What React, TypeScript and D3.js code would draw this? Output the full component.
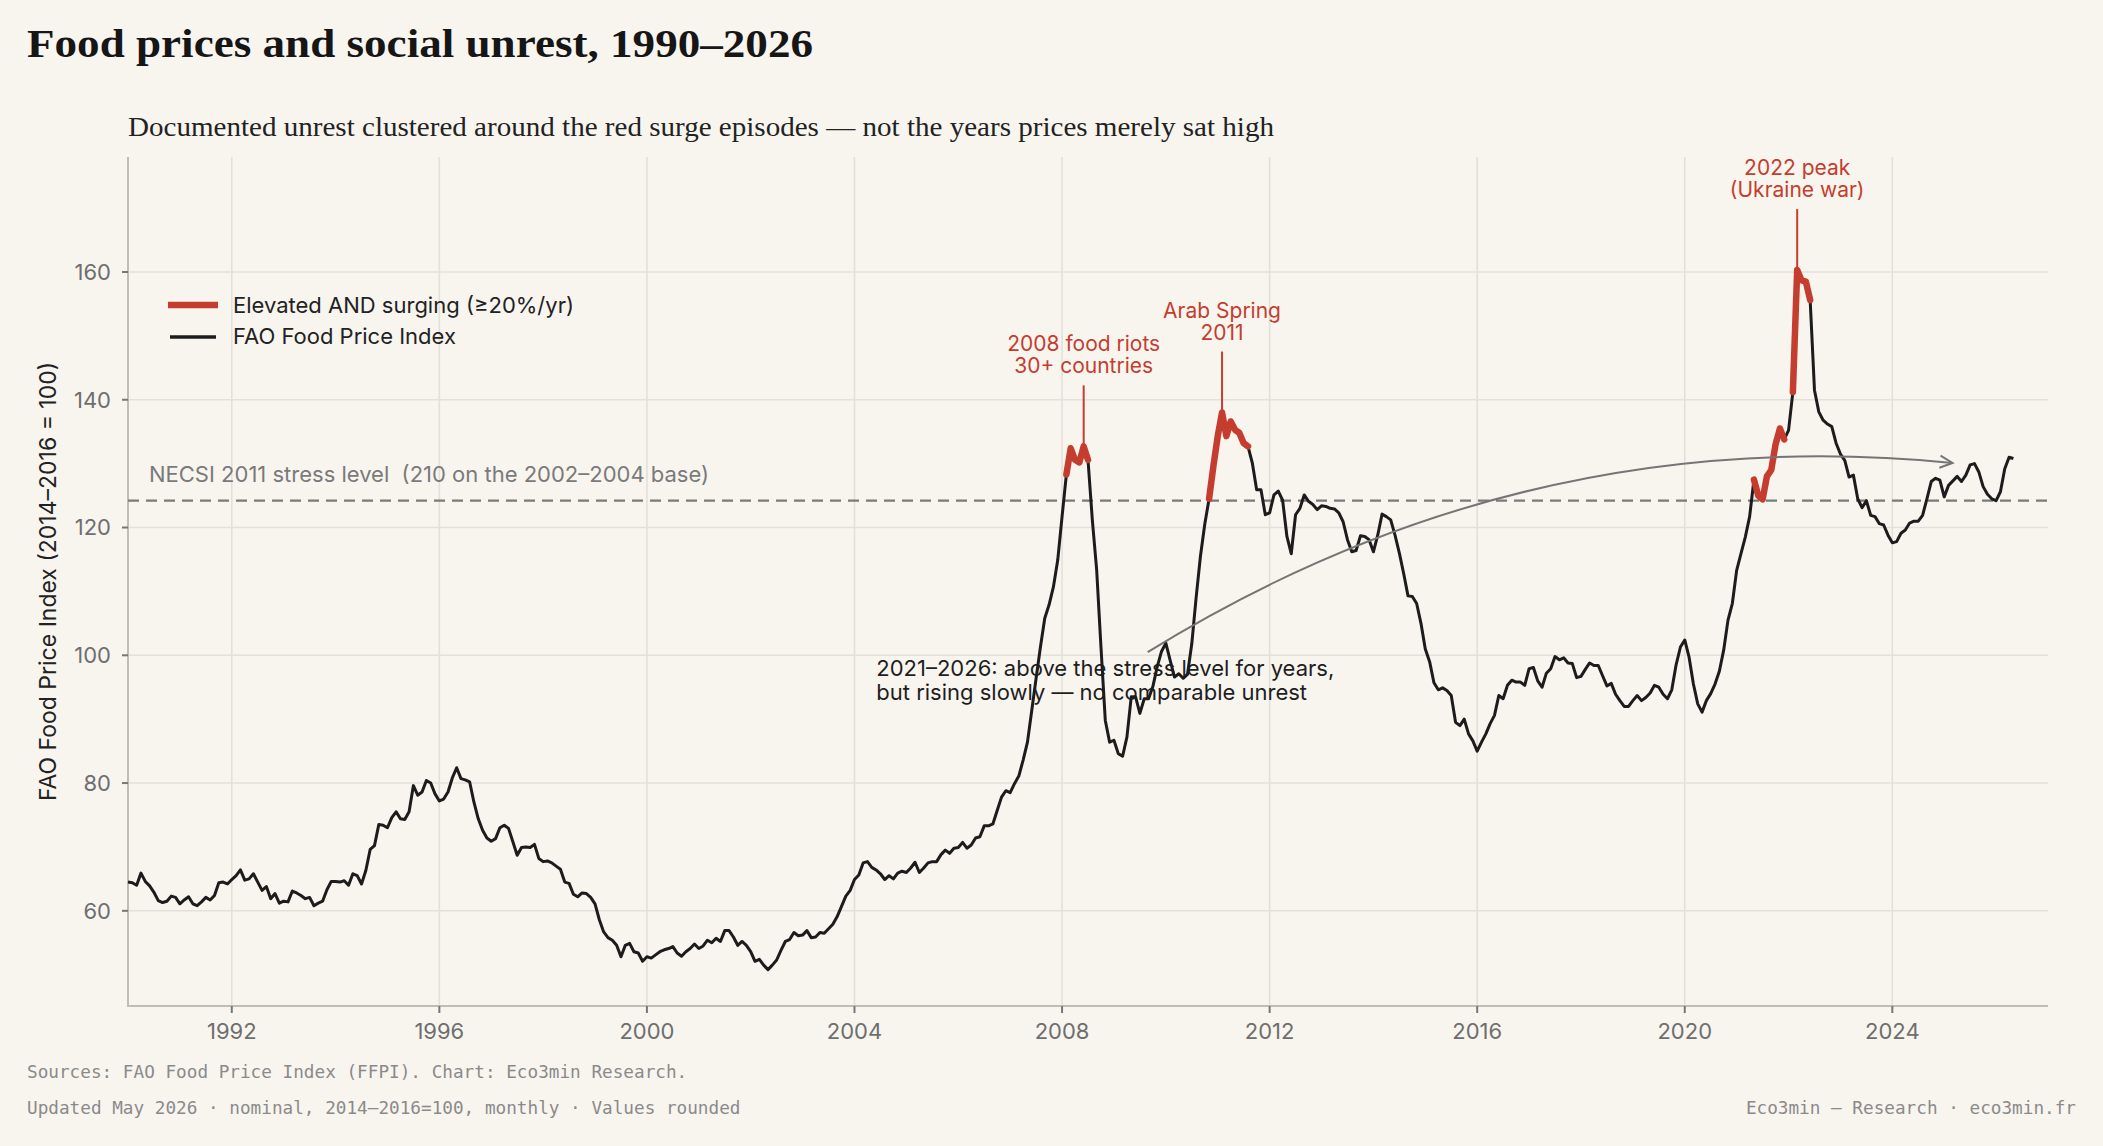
import { useEffect } from "react";
import * as d3 from "d3";

// FAO Food Price Index, monthly, nominal (2014-2016 = 100), Jan 1990 onward
const ffpi1990s = [
  64.5, 64.4, 64.0, 65.9, 64.6, 63.9, 62.9, 61.6, 61.3, 61.5, 62.3, 62.1,
  61.1, 61.7, 62.2, 61.1, 60.8, 61.4, 62.1, 61.7, 62.4, 64.4, 64.5, 64.2,
  64.9, 65.5, 66.4, 64.8, 65.0, 65.8, 64.5, 63.2, 63.8, 61.9, 62.7, 61.2,
  61.5, 61.4, 63.1, 62.8, 62.4, 61.9, 62.1, 60.8, 61.2, 61.5, 63.3, 64.6,
  64.6, 64.5, 64.7, 64.0, 65.8, 65.5, 64.2, 66.3, 69.6, 70.2, 73.5, 73.4,
  73.0, 74.6, 75.5, 74.4, 74.3, 75.5, 79.6, 78.1, 78.6, 80.4, 80.0, 78.3,
  77.2, 77.5, 78.6, 80.8, 82.4, 80.7, 80.5, 80.2, 77.0, 74.4, 72.6, 71.4,
  70.9, 71.3, 73.0, 73.4, 72.9, 70.8, 68.7, 69.9, 70.0, 69.9, 70.4, 68.2,
  67.7, 67.8, 67.5, 67.0, 66.5, 64.5, 64.3, 62.6, 62.2, 62.8, 62.7, 62.1,
  61.1, 58.6, 56.7, 55.8, 55.4, 54.6, 52.8, 54.6, 54.9, 53.6, 53.4, 52.1,
];
const ffpi2000s = [
  52.8, 52.6, 53.1, 53.6, 53.9, 54.1, 54.4, 53.4, 52.9, 53.6, 54.1, 54.8,
  54.1, 54.5, 55.4, 55.0, 55.7, 55.2, 56.9, 56.9, 55.9, 54.6, 55.2, 54.6,
  53.6, 52.1, 52.4, 51.5, 50.8, 51.5, 52.3, 53.8, 55.2, 55.5, 56.6, 56.1,
  56.2, 56.9, 55.8, 55.9, 56.6, 56.5, 57.2, 57.9, 59.1, 60.7, 62.3, 63.2,
  64.9, 65.6, 67.5, 67.7, 66.8, 66.4, 65.8, 64.9, 65.5, 65.0, 65.9, 66.2,
  66.0, 66.7, 67.6, 66.0, 66.7, 67.5, 67.7, 67.7, 68.8, 69.5, 69.0, 69.8,
  69.9, 70.7, 69.8, 70.3, 71.4, 71.6, 73.3, 73.3, 73.6, 75.7, 77.8, 78.8,
  78.5, 79.9, 81.1, 83.6, 86.4, 91.4, 96.4, 101.3, 105.8, 107.9, 110.7, 114.9,
  121.7, 128.3, 132.4, 130.6, 130.2, 132.7, 130.6, 121.2, 113.4, 101.3, 89.8, 86.4,
  86.7, 84.6, 84.2, 87.2, 93.5, 93.5, 90.9, 93.2, 93.2, 95.1, 98.2, 100.6,
];
const ffpi2010s = [
  101.9, 99.2, 96.6, 97.1, 96.4, 97.0, 101.8, 109.0, 115.5, 120.5, 124.5, 129.6,
  134.3, 138.0, 134.3, 136.6, 135.3, 134.8, 133.2, 132.7, 130.1, 125.9, 125.9, 122.0,
  122.3, 125.1, 125.7, 124.3, 118.6, 115.9, 122.0, 123.0, 125.1, 124.1, 123.6, 122.8,
  123.4, 123.3, 123.0, 122.9, 122.3, 120.9, 118.1, 116.2, 116.4, 118.7, 118.6, 118.1,
  116.2, 118.8, 122.1, 121.7, 121.2, 118.8, 116.0, 112.8, 109.3, 109.2, 108.1, 105.0,
  101.0, 99.0, 95.7, 94.6, 94.9, 94.5, 93.7, 89.5, 89.0, 90.0, 87.7, 86.6,
  85.0, 86.4, 87.7, 89.3, 90.6, 93.7, 93.2, 95.3, 96.1, 95.8, 95.8, 95.3,
  97.9, 98.1, 96.0, 95.0, 97.2, 97.9, 99.8, 99.3, 99.6, 98.8, 98.7, 96.5,
  96.7, 97.8, 98.8, 98.4, 98.4, 96.8, 95.2, 95.6, 93.9, 92.9, 92.0, 92.0,
  92.9, 93.7, 92.9, 93.4, 94.1, 95.3, 95.0, 93.9, 93.2, 94.6, 98.5, 101.3,
];
const ffpi2020s = [
  102.4, 99.7, 95.5, 92.4, 91.1, 92.9, 94.0, 95.5, 97.5, 100.8, 105.5, 108.1,
  113.3, 115.9, 118.5, 121.7, 127.5, 125.0, 124.4, 128.0, 129.0, 133.0, 135.5, 133.8,
  135.2, 141.2, 160.3, 158.7, 158.5, 155.6, 141.5, 138.1, 136.8, 136.2, 135.8, 133.2,
  131.5, 130.5, 127.9, 128.2, 124.5, 123.1, 124.2, 121.9, 121.7, 120.6, 120.4, 118.8,
  117.6, 117.8, 119.1, 119.6, 120.7, 121.0, 121.0, 121.9, 124.5, 127.2, 127.7, 127.4,
  124.8, 126.6, 127.3, 128.0, 127.2, 128.2, 129.8, 130.0, 128.7, 126.4, 125.2, 124.5,
  124.2, 125.6, 129.2, 131.0, 130.8,
];

const START_YEAR = 1990;
const STRESS_LEVEL = 124.2; // NECSI 210 on the 2002-2004 base
const SURGE = 0.2; // >= 20% year on year

const xTicks = [1992, 1996, 2000, 2004, 2008, 2012, 2016, 2020, 2024];
const yTicks = [60, 80, 100, 120, 140, 160];

const peakNotes = [
  { year: 2008, lines: ["2008 food riots", "30+ countries"] },
  { year: 2011, lines: ["Arab Spring", "2011"] },
  { year: 2022, lines: ["2022 peak", "(Ukraine war)"] },
];

const slowNote = [
  "2021–2026: above the stress level for years,",
  "but rising slowly — no comparable unrest",
];
const slowNoteAt = [2004.42, 96.7];
const arrowFrom = [2009.65, 100.5];
const arrowBend = [2016.88, 136.8];
const arrowTo = [2025.16, 130.1];

const RED = "#c43d2f";
const INK = "#1c1c1c";
const BG = "#f8f5ef";
const SANS = "Inter, 'Noto Sans', sans-serif";
const SERIF = "'Liberation Serif', serif";
const MONO = "'DejaVu Sans Mono', monospace";

export default function App() {
  const width = 2103;
  const height = 1146;
  const margin = { top: 157, right: 55, bottom: 140, left: 128 };

  useEffect(() => {
    document.body.style.margin = "0";
    document.body.style.background = BG;
  }, []);

  const values = [...ffpi1990s, ...ffpi2000s, ...ffpi2010s, ...ffpi2020s];
  const data = values.map((v, i) => ({ t: START_YEAR + i / 12, v, i }));

  const x = d3
    .scaleLinear()
    .domain([1990, 2027])
    .range([margin.left, width - margin.right]);
  const y = d3
    .scaleLinear()
    .domain([45.1, 178])
    .range([height - margin.bottom, margin.top]);

  const line = d3
    .line<{ t: number; v: number }>()
    .x((d) => x(d.t))
    .y((d) => y(d.v));

  // runs of months that are above the stress level and up >= 20% on a year earlier
  const flagged = data.map(
    (d, i) => i >= 12 && d.v > STRESS_LEVEL && d.v / values[i - 12] - 1 >= SURGE
  );
  const runs: { t: number; v: number }[][] = [];
  let cur: { t: number; v: number }[] = [];
  data.forEach((d, i) => {
    if (flagged[i]) cur.push(d);
    else {
      if (cur.length > 1) runs.push(cur);
      cur = [];
    }
  });
  if (cur.length > 1) runs.push(cur);

  const peaks = peakNotes.map((n) => {
    const inYear = data.filter((d) => Math.floor(d.t + 1e-9) === n.year);
    const top = inYear.reduce((a, b) => (b.v > a.v ? b : a));
    return { ...n, px: x(top.t), py: y(top.v) };
  });

  // curved pointer from the note to the recent plateau
  const p0 = [x(arrowFrom[0]), y(arrowFrom[1])];
  const pc = [x(arrowBend[0]), y(arrowBend[1])];
  const p2 = [x(arrowTo[0]), y(arrowTo[1])];
  const arrowPath = d3.path();
  arrowPath.moveTo(p0[0], p0[1]);
  arrowPath.quadraticCurveTo(pc[0], pc[1], p2[0], p2[1]);
  const ang = Math.atan2(p2[1] - pc[1], p2[0] - pc[0]);
  const head = [-0.45, 0.45].map((a) => [
    p2[0] - 14 * Math.cos(ang + a),
    p2[1] - 14 * Math.sin(ang + a),
  ]);

  const plotBottom = height - margin.bottom;
  const plotRight = width - margin.right;

  return (
    <svg width={width} height={height} style={{ display: "block", background: BG }}>
      <rect width={width} height={height} fill={BG} />

      <text
        x={27}
        y={57}
        fontFamily={SERIF}
        fontWeight="bold"
        fontSize={41}
        fill="#161616"
        textLength={786}
        lengthAdjust="spacingAndGlyphs"
      >
        Food prices and social unrest, 1990–2026
      </text>
      <text
        x={128}
        y={136}
        fontFamily={SERIF}
        fontSize={28}
        fill="#222"
        textLength={1146}
        lengthAdjust="spacingAndGlyphs"
      >
        Documented unrest clustered around the red surge episodes — not the years prices merely sat high
      </text>

      {/* grid */}
      <g stroke="#e3e0da" strokeWidth={1.6}>
        {yTicks.map((t) => (
          <line key={"gy" + t} x1={margin.left} x2={plotRight} y1={y(t)} y2={y(t)} />
        ))}
        {xTicks.map((t) => (
          <line key={"gx" + t} x1={x(t)} x2={x(t)} y1={margin.top} y2={plotBottom} />
        ))}
      </g>

      {/* axes */}
      <g stroke="#c2bdb4" strokeWidth={2}>
        <line x1={margin.left} x2={margin.left} y1={margin.top} y2={plotBottom + 1} />
        <line x1={margin.left - 1} x2={plotRight} y1={plotBottom} y2={plotBottom} />
        {yTicks.map((t) => (
          <line key={"ty" + t} x1={margin.left - 6} x2={margin.left} y1={y(t)} y2={y(t)} stroke="#777" />
        ))}
        {xTicks.map((t) => (
          <line key={"tx" + t} x1={x(t)} x2={x(t)} y1={plotBottom} y2={plotBottom + 7} stroke="#777" />
        ))}
      </g>
      <g fontFamily={SANS} fontSize={22} fill="#6e6e6e">
        {yTicks.map((t) => (
          <text key={"ly" + t} x={margin.left - 17} y={y(t)} dy="0.36em" textAnchor="end">
            {t}
          </text>
        ))}
        {xTicks.map((t) => (
          <text key={"lx" + t} x={x(t)} y={1039} textAnchor="middle">
            {t}
          </text>
        ))}
      </g>
      <text
        transform={`translate(48,${(margin.top + plotBottom) / 2}) rotate(-90)`}
        textAnchor="middle"
        dy="0.36em"
        fontFamily={SANS}
        fontSize={23}
        fill="#222"
      >
        FAO Food Price Index (2014–2016 = 100)
      </text>

      {/* stress level */}
      <line
        x1={margin.left}
        x2={plotRight}
        y1={y(STRESS_LEVEL)}
        y2={y(STRESS_LEVEL)}
        stroke="#7a7a7a"
        strokeWidth={2.2}
        strokeDasharray="11,7"
      />
      <text x={149} y={y(STRESS_LEVEL) - 19} fontFamily={SANS} fontSize={22} fill="#7a7a7a" style={{ whiteSpace: "pre" }}>
        NECSI 2011 stress level  (210 on the 2002–2004 base)
      </text>

      {/* series */}
      <path d={line(data) ?? ""} fill="none" stroke={INK} strokeWidth={3} strokeLinejoin="round" />
      {runs.map((r, k) => (
        <path
          key={"run" + k}
          d={line(r) ?? ""}
          fill="none"
          stroke={RED}
          strokeWidth={6.5}
          strokeLinejoin="round"
          strokeLinecap="round"
        />
      ))}

      {/* peak notes */}
      {peaks.map((p) => (
        <g key={p.year}>
          <line x1={p.px} x2={p.px} y1={p.py - 61} y2={p.py} stroke={RED} strokeWidth={2} />
          <text x={p.px} y={p.py - 95} textAnchor="middle" fontFamily={SANS} fontSize={21} fill={RED}>
            <tspan x={p.px}>{p.lines[0]}</tspan>
            <tspan x={p.px} dy={22}>
              {p.lines[1]}
            </tspan>
          </text>
        </g>
      ))}

      {/* slow plateau note */}
      <text x={x(slowNoteAt[0])} y={y(slowNoteAt[1])} fontFamily={SANS} fontSize={22} fill="#1e1e1e">
        <tspan x={x(slowNoteAt[0])}>{slowNote[0]}</tspan>
        <tspan x={x(slowNoteAt[0])} dy={23.5}>
          {slowNote[1]}
        </tspan>
      </text>
      <path d={arrowPath.toString()} fill="none" stroke="#757575" strokeWidth={2} />
      <polyline
        points={`${head[0][0]},${head[0][1]} ${p2[0]},${p2[1]} ${head[1][0]},${head[1][1]}`}
        fill="none"
        stroke="#757575"
        strokeWidth={2}
      />

      {/* legend */}
      <line x1={168} x2={218} y1={305} y2={305} stroke={RED} strokeWidth={6.5} />
      <line x1={170} x2={216} y1={337} y2={337} stroke={INK} strokeWidth={3.5} />
      <g fontFamily={SANS} fontSize={22} fill="#222">
        <text x={233} y={313}>Elevated AND surging (≥20%/yr)</text>
        <text x={233} y={344}>FAO Food Price Index</text>
      </g>

      {/* footer */}
      <g fontFamily={MONO} fontSize={17.7} fill="#8a8a8a">
        <text x={27} y={1078}>Sources: FAO Food Price Index (FFPI). Chart: Eco3min Research.</text>
        <text x={27} y={1114}>Updated May 2026 · nominal, 2014–2016=100, monthly · Values rounded</text>
        <text x={2076} y={1114} textAnchor="end">
          Eco3min — Research · eco3min.fr
        </text>
      </g>
    </svg>
  );
}
